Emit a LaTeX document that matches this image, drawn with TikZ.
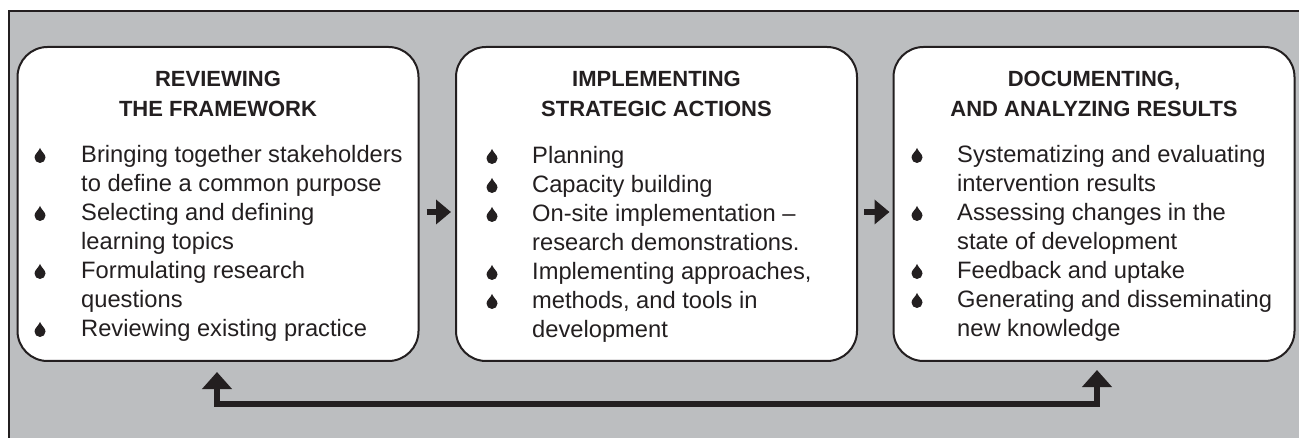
\documentclass[tikz,border=0pt]{standalone}
\usepackage{fontspec}
\setmainfont{Liberation Sans}
\usetikzlibrary{arrows.meta}
\definecolor{bg}{HTML}{BCBEC0}
\definecolor{ink}{HTML}{231F20}
\begin{document}
\begin{tikzpicture}[x=1pt,y=-1pt,
  box/.style={draw=ink, line width=2pt, fill=white, rounded corners=30pt, minimum width=401pt, minimum height=314pt, inner sep=0pt},
  head/.style={font=\fontsize{22}{29}\selectfont\bfseries, text=ink, inner sep=0pt, anchor=base},
  item/.style={font=\fontsize{23.7}{29}\selectfont, text=ink, inner sep=0pt, anchor=base west},
  flow/.style={draw=ink, line width=6.5pt, -{Triangle[width=24pt,length=15pt]}},
  loopback/.style={draw=ink, line width=6pt, line join=miter, {Triangle[width=29pt,length=17pt]}-{Triangle[width=29pt,length=17pt]}},
  drop/.pic={\fill[ink] (0,-15) .. controls (1.5,-11) and (5.5,-9) .. (5.5,-5.5) arc[start angle=0,end angle=180,radius=5.5] .. controls (-5.5,-9) and (-1.5,-11) .. (0,-15) -- cycle;}
]
\path[use as bounding box] (0,0) rectangle (1299,438);
\fill[white] (0,0) rectangle (1299,438);
\draw[ink, fill=bg, line width=2pt] (9,11) rectangle (1330,470);

\node[box] (b1) at (218,204) {};
\node[box] (b2) at (656.5,204) {};
\node[box] (b3) at (1094,204) {};

% headings
\node[head] (h1a) at (218,87) {REVIEWING};
\node[head] (h1b) at (218,117) {THE FRAMEWORK};
\node[head] (h2a) at (656.5,87) {IMPLEMENTING};
\node[head] (h2b) at (656.5,117) {STRATEGIC ACTIONS};
\node[head] (h3a) at (1094,87) {DOCUMENTING,};
\node[head] (h3b) at (1094,117) {AND ANALYZING RESULTS};

% box 1
\node[item] (a1) at (81,163) {Bringing together stakeholders};
\node[item] (a2) at (81,192) {to define a common purpose};
\node[item] (a3) at (81,221) {Selecting and defining};
\node[item] (a4) at (81,250) {learning topics};
\node[item] (a5) at (81,279) {Formulating research};
\node[item] (a6) at (81,308) {questions};
\node[item] (a7) at (81,337) {Reviewing existing practice};
\foreach \yy in {163,221,279,337} \pic at (40,\yy) {drop};

% box 2
\node[item] (c1) at (532,164) {Planning};
\node[item] (c2) at (532,193) {Capacity building};
\node[item] (c3) at (532,222) {On-site implementation –};
\node[item] (c4) at (532,251) {research demonstrations.};
\node[item] (c5) at (532,280) {Implementing approaches,};
\node[item] (c6) at (532,309) {methods, and tools in};
\node[item] (c7) at (532,338) {development};
\foreach \yy in {164,193,222,280,309} \pic at (492,\yy) {drop};

% box 3
\node[item] (d1) at (957,163) {Systematizing and evaluating};
\node[item] (d2) at (957,192) {intervention results};
\node[item] (d3) at (957,221) {Assessing changes in the};
\node[item] (d4) at (957,250) {state of development};
\node[item] (d5) at (957,279) {Feedback and uptake};
\node[item] (d6) at (957,308) {Generating and disseminating};
\node[item] (d7) at (957,337) {new knowledge};
\foreach \yy in {163,221,279,308} \pic at (917,\yy) {drop};

% arrows
\draw[flow, shorten <=7pt, shorten >=4pt] ([yshift=-8pt]b1.east) -- ([yshift=-8pt]b2.west);
\draw[flow, shorten <=6pt, shorten >=3pt] ([yshift=-8pt]b2.east) -- ([yshift=-8pt]b3.west);
\coordinate (fb) at (0,404);
\draw[loopback, shorten <=10pt, shorten >=8pt] ([xshift=-1pt]b1.south) -- ([xshift=-1pt]b1.south |- fb) -| ([xshift=3pt]b3.south);
\end{tikzpicture}
\end{document}
